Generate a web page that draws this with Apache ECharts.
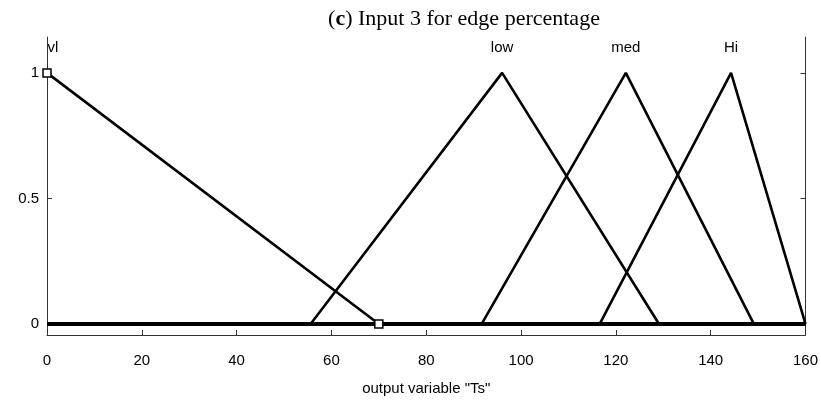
<!DOCTYPE html>
<html>
<head>
<meta charset="utf-8">
<script src="https://cdn.jsdelivr.net/npm/echarts@6/dist/echarts.min.js"></script>
<style>html,body{margin:0;padding:0;background:#fff}#c{width:821px;height:402px}</style>
</head>
<body>
<div id="c"></div>
<script>
// Data
const xTicks = [0, 20, 40, 60, 80, 100, 120, 140, 160];
const yTicks = [0, 0.5, 1];
const domain = [0, 160];
const mfNames = ['vl', 'low', 'med', 'Hi'];
const vlX = [0, 70, 160];
const vlY = [1, 0, 0];
const lowX = [0, 55.6, 96, 129.1, 160];
const lowY = [0, 0, 1, 0, 0];
const medX = [0, 91.7, 122.1, 149.1, 160];
const medY = [0, 0, 1, 0, 0];
const hiX = [0, 116.6, 144.3, 160];
const hiY = [0, 0, 1, 0];
const labelX = [0, 96, 122.1, 144.3];
const handleX = [0, 70];
const handleY = [1, 0];

const zip = (xs, ys) => xs.map((x, i) => [x, ys[i]]);
const lineStyle = { color: '#000', width: 2.6 };
const mk = (name, xs, ys) => ({
  name, type: 'line', data: zip(xs, ys), symbol: 'none',
  lineStyle, z: 3, animation: false
});

const chart = echarts.init(document.getElementById('c'), null, { renderer: 'canvas' });
chart.setOption({
  animation: false,
  backgroundColor: '#fff',
  title: {
    text: '{n|(}{b|c}{n|) Input 3 for edge percentage}',
    left: 459, top: 3, textAlign: 'center',
    textStyle: {
      fontWeight: 'normal',
      rich: {
        n: { fontFamily: 'Liberation Serif', fontSize: 22, fontWeight: 'normal', color: '#000' },
        b: { fontFamily: 'Liberation Serif', fontSize: 22, fontWeight: 'bold', color: '#000' }
      }
    }
  },
  grid: { left: 47, right: 15, top: 37, bottom: 67 },
  xAxis: {
    type: 'value', min: domain[0], max: domain[1], interval: 20,
    name: 'output variable "Ts"', nameLocation: 'middle', nameGap: 46,
    nameTextStyle: { fontFamily: 'Liberation Sans', fontSize: 15, color: '#000' },
    axisLine: { show: true, onZero: false, lineStyle: { color: '#333', width: 1 } },
    axisTick: { show: true, inside: true, length: 5, lineStyle: { color: '#333' } },
    axisLabel: { fontFamily: 'Liberation Sans', fontSize: 15, color: '#000', margin: 18 },
    splitLine: { show: false }
  },
  yAxis: [{
    type: 'value', min: -0.044, max: 1.143,
    axisLine: { show: true, onZero: false, lineStyle: { color: '#333', width: 1 } },
    axisTick: { show: true, inside: true, length: 5, customValues: yTicks, lineStyle: { color: '#333' } },
    axisLabel: { fontFamily: 'Liberation Sans', fontSize: 15, color: '#000', margin: 8, customValues: yTicks },
    splitLine: { show: false }
  }, {
    type: 'value', min: -0.044, max: 1.143, position: 'right',
    axisLine: { show: true, onZero: false, lineStyle: { color: '#333', width: 1 } },
    axisTick: { show: true, inside: true, length: 5, customValues: yTicks, lineStyle: { color: '#333' } },
    axisLabel: { show: false },
    splitLine: { show: false }
  }],
  series: [
    {
      name: 'zero', type: 'line', data: zip(domain, [0, 0]), symbol: 'none',
      lineStyle: { color: '#000', width: 4 }, z: 2
    },
    mk('vl', vlX, vlY),
    mk('low', lowX, lowY),
    mk('med', medX, medY),
    mk('Hi', hiX, hiY),
    {
      name: 'handles', type: 'scatter', data: zip(handleX, handleY),
      symbol: 'rect', symbolSize: 8,
      itemStyle: { color: '#fff', borderColor: '#000', borderWidth: 1.5, opacity: 1 }, z: 5
    },
    {
      name: 'labels', type: 'scatter',
      data: labelX.map((x, i) => ({
        value: [x, 1.1], name: mfNames[i],
        label: i === 0 ? { position: 'right', distance: 0 } : undefined
      })),
      symbolSize: 1, itemStyle: { opacity: 1, color: 'rgba(0,0,0,0)' }, z: 6,
      label: {
        show: true, formatter: p => p.name,
        position: 'inside',
        fontFamily: 'Liberation Sans', fontSize: 15, color: '#000'
      }
    }
  ]
});
</script>
</body>
</html>
